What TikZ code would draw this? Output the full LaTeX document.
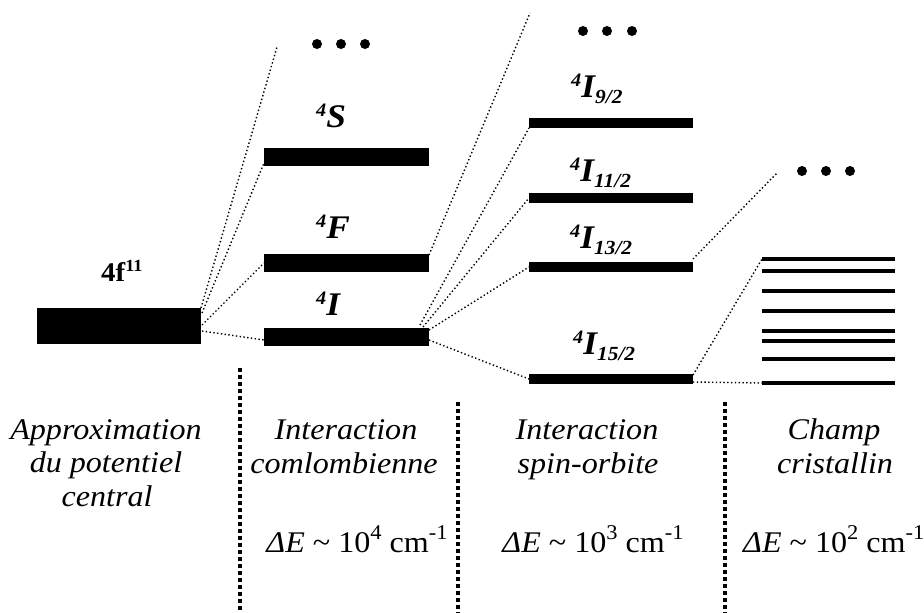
\documentclass[tikz,border=0pt]{standalone}
\usepackage{fontspec}
\setmainfont{Liberation Serif}[FakeStretch=1.07]
\usetikzlibrary{calc}

% raised / lowered indices for the term symbols and energy scales
\newcommand\lsup[1]{\raisebox{11pt}{\fontsize{19}{19}\selectfont #1}}
\newcommand\lsub[1]{\raisebox{-6pt}{\fontsize{20}{20}\selectfont #1}}
\newcommand\esup[1]{\raisebox{13pt}{\fontsize{21}{21}\selectfont #1}}
\newcommand\fsup[1]{\raisebox{10pt}{\fontsize{17}{17}\selectfont #1}}

\tikzset{
  level/.style={fill=black, draw=none, inner sep=0pt, outer sep=0pt,
                minimum width=164pt, minimum height=#1},
  cfline/.style={fill=black, draw=none, inner sep=0pt, outer sep=0pt,
                 minimum width=133pt, minimum height=4pt},
  conn/.style={line width=1.4pt, dash pattern=on 1.4pt off 2.4pt},
  sepline/.style={line width=3.4pt, dash pattern=on 3.5pt off 3.5pt},
  dotmark/.style={circle, fill=black, inner sep=0pt, minimum size=10pt},
  term/.style={anchor=base west, inner sep=0pt,
               font=\fontsize{33}{33}\selectfont\bfseries\itshape},
  capt/.style={anchor=base, inner sep=0pt,
               font=\fontsize{30}{34}\selectfont\itshape},
  energy/.style={anchor=base, inner sep=0pt,
                font=\fontsize{30}{34}\selectfont},
}

\begin{document}
\begin{tikzpicture}[x=1pt, y=-1pt]
\useasboundingbox (0,0) rectangle (924,613);

% ---- configuration 4f^11 ----
\node[level=36pt] (cfg) at (119,326) {};
\node[anchor=base west, inner sep=0pt, font=\fontsize{27}{27}\selectfont\bfseries]
  (cfglab) at (101,281) {4f\fsup{11}};

% ---- Coulomb terms ----
\node[level=18pt, minimum width=165pt] (S) at (346.5,157) {};
\node[level=18pt, minimum width=165pt] (F) at (346.5,263) {};
\node[level=18pt, minimum width=165pt] (I) at (346.5,337) {};
\node[term] (Slab) at (316,127) {\lsup{4}S};
\node[term] (Flab) at (316,238) {\lsup{4}F};
\node[term] (Ilab) at (316,315) {\lsup{4}I};
\node[dotmark] (da1) at (317,44) {};
\node[dotmark] (da2) at (341,44) {};
\node[dotmark] (da3) at (365,44) {};

% ---- spin-orbit multiplets ----
\node[level=10pt] (J9)  at (611,123) {};
\node[level=10pt] (J11) at (611,198) {};
\node[level=10pt] (J13) at (611,267) {};
\node[level=10pt] (J15) at (611,379) {};
\node[term] (J9lab)  at (571,97)  {\lsup{4}I\lsub{9/2}};
\node[term] (J11lab) at (570,181) {\lsup{4}I\lsub{11/2}};
\node[term] (J13lab) at (570,248) {\lsup{4}I\lsub{13/2}};
\node[term] (J15lab) at (573,354) {\lsup{4}I\lsub{15/2}};
\node[dotmark] (db1) at (583,31) {};
\node[dotmark] (db2) at (607,31) {};
\node[dotmark] (db3) at (632,31) {};

% ---- crystal-field (Stark) sublevels ----
\foreach \y [count=\k] in {259,271,291,311,331,341,359,383}
  \node[cfline] (st\k) at (828.5,\y) {};
\node[dotmark] (dc1) at (802,171) {};
\node[dotmark] (dc2) at (826,171) {};
\node[dotmark] (dc3) at (850,171) {};

% ---- free ends of the open correlation lines ----
\coordinate (topA) at (277,47);
\coordinate (topB) at (530,13);
\coordinate (topC) at (777,173);

% ---- correlation lines ----
\draw[conn] (cfg.north east) -- (topA);
\draw[conn] ($(cfg.north east)+(1,5)$) -- ($(S.south west)+(0,-3)$);
\draw[conn] ($(cfg.east)+(1,-1)$) -- (F.west);
\draw[conn] ($(cfg.east)+(1,5)$) -- ($(I.west)+(0,3)$);

\draw[conn] ($(F.north east)+(0,1)$) -- (topB);
\draw[conn] ($(I.north east)+(-9,-3)$) -- (J9.south west);
\draw[conn] ($(I.north east)+(-6,-1)$) -- (J11.west);
\draw[conn] ($(I.north east)+(0,2)$) -- (J13.west);
\draw[conn] ($(I.east)+(0,3)$) -- (J15.west);

\draw[conn] ($(J13.north east)+(0,-3)$) -- (topC);
\draw[conn] ($(J15.north east)+(0,1)$) -- (st1.west);
\draw[conn] ($(J15.east)+(0,3)$) -- (st8.west);

% ---- column separators ----
\coordinate (s1t) at (240,368); \coordinate (s1b) at (240,613);
\coordinate (s2t) at (458,402); \coordinate (s2b) at (458,613);
\coordinate (s3t) at (725,402); \coordinate (s3b) at (725,613);
\draw[sepline] (s1t) -- (s1b);
\draw[sepline] (s2t) -- (s2b);
\draw[sepline] (s3t) -- (s3b);

% ---- captions ----
\node[capt] (c1a) at (106,439) {Approximation};
\node[capt] (c1b) at (106,472) {du potentiel};
\node[capt] (c1c) at (107,506) {central};

\node[capt] (c2a) at (346,439) {Interaction};
\node[capt] (c2b) at (344,473) {comlombienne};
\node[energy] (c2e) at (357,552) {\textit{ΔE} \textasciitilde{} 10\esup{4} cm\esup{-1}};

\node[capt] (c3a) at (587,439) {Interaction};
\node[capt] (c3b) at (588,473) {spin-orbite};
\node[energy] (c3e) at (593,552) {\textit{ΔE} \textasciitilde{} 10\esup{3} cm\esup{-1}};

\node[capt] (c4a) at (834,439) {Champ};
\node[capt] (c4b) at (835,473) {cristallin};
\node[energy, anchor=base west] (c4e) at (743,552) {\textit{ΔE} \textasciitilde{} 10\esup{2} cm\esup{-1}};
\end{tikzpicture}
\end{document}
